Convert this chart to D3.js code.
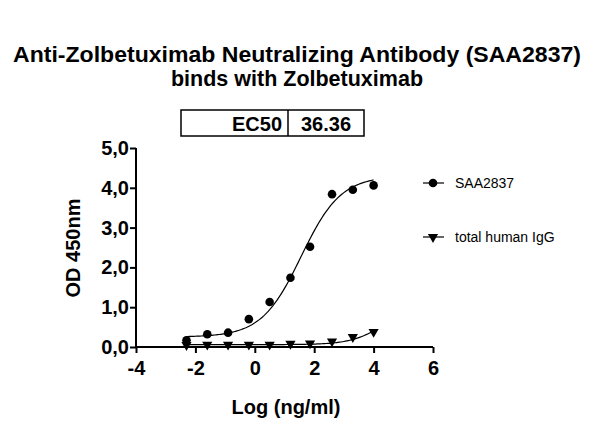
<!DOCTYPE html>
<html><head><meta charset="utf-8">
<script src="https://cdn.jsdelivr.net/npm/d3@7.9.0/dist/d3.min.js"></script>
<style>body{margin:0;background:#fff}text{font-family:"Liberation Sans",Arial,sans-serif}</style>
</head><body><svg id="c" width="590" height="428"></svg>
<script>
const logConc = [-2.3, -1.6, -0.9, -0.2, 0.5, 1.2, 1.86, 2.6, 3.3, 4.0];
const saa2837 = [0.17, 0.32, 0.36, 0.70, 1.13, 1.74, 2.52, 3.84, 3.95, 4.06];
const humanIgG = [0.05, 0.06, 0.06, 0.06, 0.06, 0.08, 0.09, 0.14, 0.25, 0.38];
const xTicks = [-4, -2, 0, 2, 4, 6];
const yTicks = [0, 1, 2, 3, 4, 5];
// 4PL fit parameters: bottom, top, logEC50, hill
const fitSAA = [0.25, 4.3, Math.log10(36.36), 0.65];
const fitIgG = [0.06, 1.0, 4.3, 0.8];

const svg = d3.select("#c");
const x = d3.scaleLinear().domain([-4, 6]).range([136, 433]);
const y = d3.scaleLinear().domain([0, 5]).range([347, 148]);

svg.append("text").attr("x", 297).attr("y", 62).attr("text-anchor", "middle")
  .attr("font-size", 21.5).attr("font-weight", "bold").attr("textLength", 568).attr("lengthAdjust", "spacingAndGlyphs")
  .text("Anti-Zolbetuximab Neutralizing Antibody (SAA2837)");
svg.append("text").attr("x", 297).attr("y", 86).attr("text-anchor", "middle")
  .attr("font-size", 21.5).attr("font-weight", "bold").text("binds with Zolbetuximab");

// EC50 table
svg.append("rect").attr("x", 181).attr("y", 110).attr("width", 183).attr("height", 26)
  .attr("fill", "none").attr("stroke", "#000").attr("stroke-width", 1.5);
svg.append("line").attr("x1", 288).attr("x2", 288).attr("y1", 110).attr("y2", 136).attr("stroke", "#000").attr("stroke-width", 1.5);
svg.append("text").attr("x", 282).attr("y", 131).attr("text-anchor", "end").attr("font-size", 20).attr("font-weight", "bold").text("EC50");
svg.append("text").attr("x", 326).attr("y", 131).attr("text-anchor", "middle").attr("font-size", 20).attr("font-weight", "bold").text("36.36");

const xAxis = svg.append("g").attr("transform", "translate(0,347)")
  .call(d3.axisBottom(x).tickValues(xTicks).tickSize(6).tickFormat(d => String(d)));
const yAxis = svg.append("g").attr("transform", "translate(136,0)")
  .call(d3.axisLeft(y).tickValues(yTicks).tickSize(6).tickFormat(d => d.toFixed(1).replace(".", ",")));
[xAxis, yAxis].forEach(a => {
  a.selectAll("path,line").attr("stroke", "#000").attr("stroke-width", 2);
  a.selectAll("text").attr("font-size", 20).attr("font-weight", "bold").attr("fill", "#000")
    .style("font-family", "Liberation Sans, Arial, sans-serif");
});
xAxis.selectAll("text").attr("dy", "0.95em");
yAxis.selectAll("text").attr("x", -7);
xAxis.select(".domain").attr("d", "M136,0H433");
yAxis.select(".domain").attr("d", "M0,148V347");

svg.append("text").attr("transform", "translate(80,248) rotate(-90)").attr("text-anchor", "middle")
  .attr("font-size", 20).attr("font-weight", "bold").text("OD 450nm");
svg.append("text").attr("x", 286).attr("y", 414).attr("text-anchor", "middle")
  .attr("font-size", 20).attr("font-weight", "bold").text("Log (ng/ml)");

function fourPL(p, v) { return p[0] + (p[1] - p[0]) / (1 + Math.pow(10, (p[2] - v) * p[3])); }
const xs = d3.range(logConc[0], logConc[logConc.length - 1] + 0.001, 0.05);
const line = d3.line().x(d => x(d[0])).y(d => y(d[1]));
[fitSAA, fitIgG].forEach(p => {
  svg.append("path").attr("d", line(xs.map(v => [v, fourPL(p, v)])))
    .attr("fill", "none").attr("stroke", "#000").attr("stroke-width", 1.2);
});

const tri = d3.symbol().type(d3.symbolTriangle).size(45);
svg.selectAll(".dot").data(logConc).enter().append("circle")
  .attr("cx", d => x(d)).attr("cy", (d, i) => y(saa2837[i])).attr("r", 4.3).attr("fill", "#000");
svg.selectAll(".tri").data(logConc).enter().append("path")
  .attr("d", tri).attr("fill", "#000")
  .attr("transform", (d, i) => `translate(${x(d)},${y(humanIgG[i])}) rotate(180)`);

// legend
const leg = [["SAA2837", 183, "c"], ["total human IgG", 237, "t"]];
leg.forEach(([name, ly, m]) => {
  svg.append("line").attr("x1", 423).attr("x2", 444).attr("y1", ly).attr("y2", ly).attr("stroke", "#000").attr("stroke-width", 1.2);
  if (m === "c") svg.append("circle").attr("cx", 433).attr("cy", ly).attr("r", 4.3);
  else svg.append("path").attr("d", tri).attr("transform", `translate(433,${ly}) rotate(180)`);
  svg.append("text").attr("x", 455).attr("y", ly + 5).attr("font-size", 14).text(name);
});
</script></body></html>
